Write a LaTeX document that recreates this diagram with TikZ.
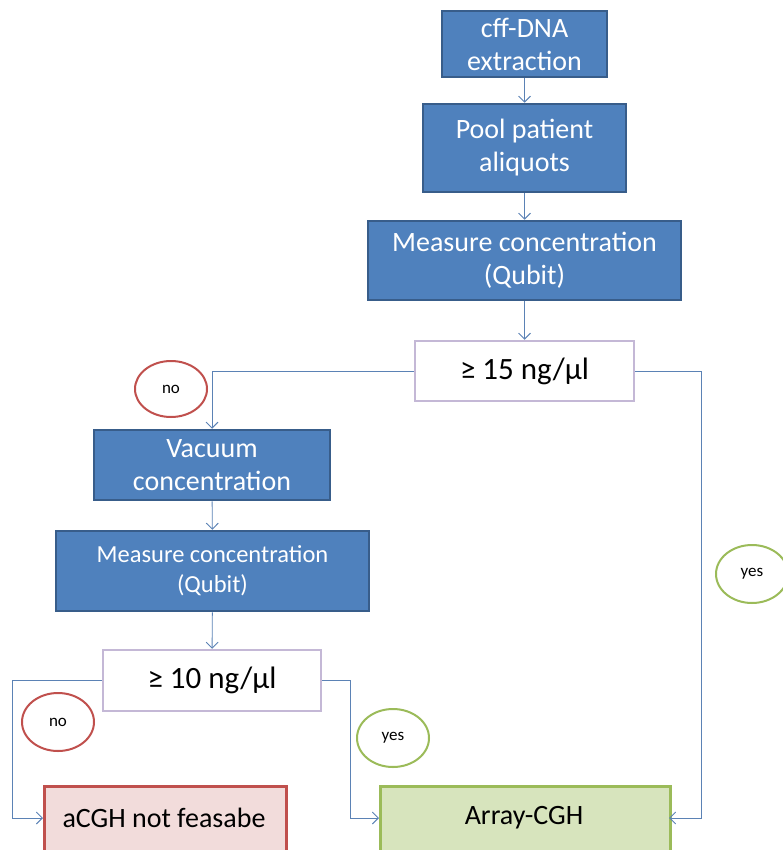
\documentclass[tikz,border=0pt]{standalone}
\usepackage{fontspec}
\setmainfont{Carlito}
\usetikzlibrary{arrows.meta,shapes.geometric}
\definecolor{bfill}{HTML}{4F81BD}
\definecolor{bdraw}{HTML}{385D8A}
\definecolor{lav}{HTML}{C4B8D6}
\definecolor{rdraw}{HTML}{C0504D}
\definecolor{rfill}{HTML}{F2DCDB}
\definecolor{gdraw}{HTML}{9BBB59}
\definecolor{gfill}{HTML}{D7E4BD}
\definecolor{conn}{HTML}{5B82B5}
\tikzset{
  bluebox/.style={draw=bdraw,fill=bfill,line width=2.5pt,text=white,align=center,inner sep=0pt,font=\fontsize{28}{33}\selectfont},
  decbox/.style={draw=lav,fill=white,line width=2.5pt,align=center,inner sep=0pt,font=\fontsize{31}{34}\selectfont},
  redbox/.style={draw=rdraw,fill=rfill,line width=2.5pt,inner sep=0pt},
  greenbox/.style={draw=gdraw,fill=gfill,line width=2.5pt,inner sep=0pt},
  boxtext/.style={font=\fontsize{28}{32}\selectfont},
  noell/.style={ellipse,draw=rdraw,line width=2pt,minimum width=72pt,minimum height=56pt,inner sep=0pt,font=\fontsize{17}{19}\selectfont},
  yesell/.style={ellipse,draw=gdraw,line width=2pt,minimum width=72pt,minimum height=58pt,inner sep=0pt,font=\fontsize{17}{19}\selectfont},
  arr/.style={draw=conn,line width=0.9pt,-{Straight Barb[length=6pt,width=12pt,line width=0.9pt]}},
}
\begin{document}
\begin{tikzpicture}[x=1pt,y=-1pt]
\useasboundingbox (0,0) rectangle (783,850);
\node[bluebox,minimum width=165pt,minimum height=66pt] (n1) at (524.5,44) {cff-DNA\\extraction};
\node[bluebox,minimum width=203pt,minimum height=88pt] (n2) at (524.5,148) {Pool patient\\aliquots};
\node[bluebox,minimum width=313pt,minimum height=79pt] (n3) at (524.5,260.5) {Measure concentration\\(Qubit)};
\node[decbox,minimum width=219pt,minimum height=60pt] (d1) at (524.5,371) {≥ 15 ng/µl};
\node[bluebox,minimum width=236pt,minimum height=70pt] (n5) at (212,465) {Vacuum\\concentration};
\node[bluebox,minimum width=313pt,minimum height=80pt,font=\fontsize{24.5}{30}\selectfont] (n6) at (212.5,571) {Measure concentration\\(Qubit)};
\node[decbox,minimum width=218pt,minimum height=61pt] (d2) at (212,680.5) {≥ 10 ng/µl};
\node[redbox,minimum width=242pt,minimum height=80pt,anchor=north west] (bad) at (43,785) {};
\node[boxtext] (badt) at (164,818) {aCGH not feasabe};
\node[greenbox,minimum width=290pt,minimum height=80pt,anchor=north west] (ok) at (379,785) {};
\node[boxtext] (okt) at (524,818) {Array-CGH};
\coordinate (badw) at (43,818);
\coordinate (okw) at (379,818);
\coordinate (oke) at (669,818);
\node[noell] (no1) at (171,389) {no};
\node[yesell] (yes1) at (752,574) {yes};
\node[noell,minimum height=58pt] (no2) at (58,722) {no};
\node[yesell] (yes2) at (393,738) {yes};
\draw[arr] (n1) -- (n2);
\draw[arr] (n2) -- (n3);
\draw[arr] (n3) -- (d1);
\draw[arr] (d1.west) -| (n5.north);
\draw[arr] (d1.east) -- (701,371) |- (oke);
\draw[arr] (n5) -- (n6);
\draw[arr] (n6) -- (d2);
\draw[arr] (d2.west) -- (12,680.5) |- (badw);
\draw[arr] (d2.east) -- (350,680.5) |- (okw);
\end{tikzpicture}
\end{document}
